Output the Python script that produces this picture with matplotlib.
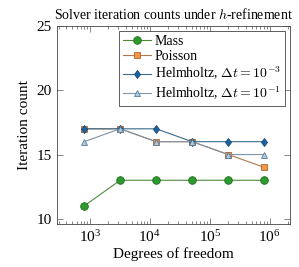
import matplotlib
matplotlib.use("Agg")
import matplotlib.pyplot as plt
from matplotlib.ticker import LogLocator, NullFormatter, FixedLocator

plt.rcParams['font.family'] = ['Liberation Serif', 'DejaVu Serif']
plt.rcParams['mathtext.fontset'] = 'cm'

dofs = [800, 3200, 12800, 51200, 204800, 819200]
mass = [11, 13, 13, 13, 13, 13]
poisson = [17, 17, 16, 16, 15, 14]
helm_small = [17, 17, 17, 16, 16, 16]
helm_large = [16, 17, 16, 16, 15, 15]


def main():
    fig = plt.figure(figsize=(2.99, 2.67), dpi=100)
    ax = fig.add_axes([0.19, 0.161, 0.78, 0.742])

    ax.plot(dofs, mass, color='#4f8a3c', lw=0.8, marker='o', ms=5.5,
            mfc='#2e9a2e', mec='#1f6e1f', mew=0.6, label='Mass')
    ax.plot(dofs, poisson, color='#b07850', lw=0.8, marker='s', ms=5,
            mfc='#f5953f', mec='#a8683a', mew=0.6, label='Poisson')
    ax.plot(dofs, helm_small, color='#3a6a8c', lw=0.8, marker='d', ms=4.5,
            mfc='#1c63a0', mec='#164a76', mew=0.6,
            label=r'Helmholtz, $\Delta t = 10^{-3}$')
    ax.plot(dofs, helm_large, color='#7f95a8', lw=0.8, marker='^', ms=4.5,
            mfc='#a9cbe6', mec='#5b7b95', mew=0.6,
            label=r'Helmholtz, $\Delta t = 10^{-1}$')

    ax.set_xscale('log')
    ax.set_xlim(280, 2.2e6)
    ax.set_ylim(9.6, 25)
    ax.yaxis.set_major_locator(FixedLocator([10, 15, 20, 25]))
    ax.xaxis.set_minor_locator(LogLocator(base=10, subs=range(2, 10)))
    ax.xaxis.set_minor_formatter(NullFormatter())
    ax.tick_params(which='both', direction='in', top=True, right=True,
                   labelsize=11, width=0.5, color='#555555')
    ax.tick_params(which='major', length=4)
    ax.tick_params(which='minor', length=2)
    for s in ax.spines.values():
        s.set_linewidth(0.6)
        s.set_color('#444444')

    ax.set_xlabel('Degrees of freedom', fontsize=11, labelpad=2)
    ax.set_ylabel('Iteration count', fontsize=11, labelpad=4)
    ax.set_title(r'Solver iteration counts under $h$-refinement', fontsize=10, pad=5)

    leg = ax.legend(loc='upper right', fontsize=10, fancybox=False,
                    edgecolor='#444444', framealpha=1, handlelength=2.0,
                    handletextpad=0.3, borderpad=0.3, labelspacing=0.15,
                    borderaxespad=0.35)
    leg.get_frame().set_linewidth(0.6)

    fig.savefig('out.png', dpi=100)


if __name__ == "__main__":
    main()
